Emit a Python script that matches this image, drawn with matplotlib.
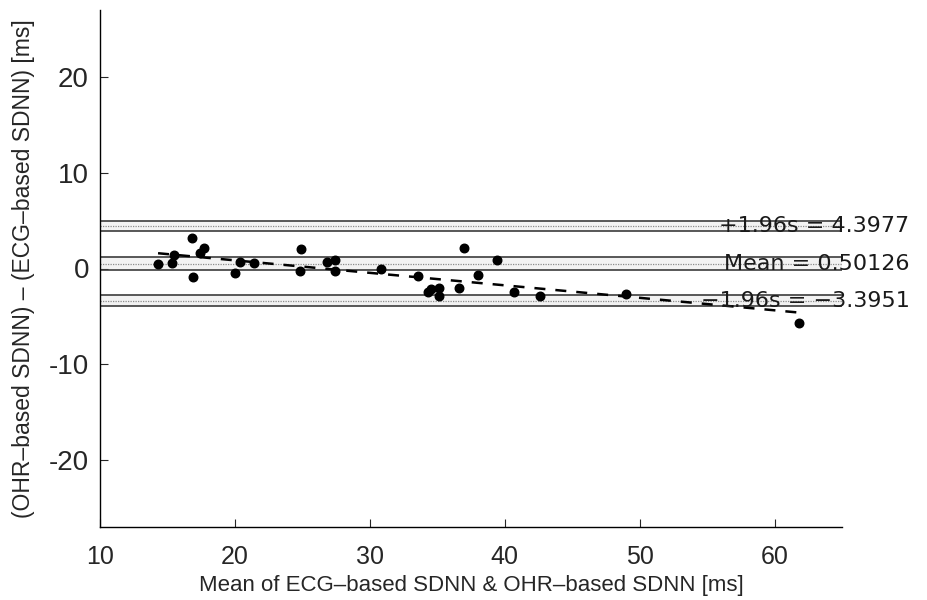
import numpy as np
import matplotlib
matplotlib.use("Agg")
from matplotlib import pyplot as plt

plt.rcParams["axes.unicode_minus"] = False

# Bland-Altman data: mean of the two SDNN estimates vs their difference [ms]
sdnn_mean = [14.3, 15.3, 15.5, 16.8, 16.9, 17.4, 17.7, 20.0, 20.4, 21.4,
             24.8, 24.9, 26.8, 27.4, 27.4, 30.8, 33.6, 34.3, 34.5, 35.1,
             35.1, 36.6, 37.0, 38.0, 39.4, 40.7, 42.6, 49.0, 61.8]
sdnn_diff = [0.52, 0.59, 1.46, 3.2, -0.9, 1.63, 2.15, -0.45, 0.66, 0.59,
             -0.28, 2.05, 0.7, 0.87, -0.24, -0.1, -0.8, -2.47, -2.19, -2.05,
             -2.88, -2.08, 2.15, -0.7, 0.94, -2.47, -2.85, -2.64, -5.66]

# reference lines and their confidence bands
ref_names = ["+1.96s", "Mean", "\u22121.96s"]
ref_values = [4.3977, 0.50126, -3.3951]
ref_lo = [3.9, -0.2, -3.93]
ref_hi = [5.0, 1.25, -2.81]

x = np.array(sdnn_mean)
y = np.array(sdnn_diff)

fig = plt.figure(figsize=(9.28, 6), dpi=100)
ax = fig.add_axes([0.1078, 0.1217, 0.7995, 0.8616])

for name, v, lo, hi in zip(ref_names, ref_values, ref_lo, ref_hi):
    ax.axhspan(lo, hi, facecolor="#f2f2f2", edgecolor="none", zorder=1)
    ax.axhline(lo, color="#3c3c3c", lw=1.2, zorder=2)
    ax.axhline(hi, color="#3c3c3c", lw=1.2, zorder=2)
    ax.axhline(v, color="#8c8c8c", lw=0.9, ls=(0, (1, 1)), zorder=2)
    txt = "%s = %g" % (name, v)
    ax.text(70.0, v, txt.replace("= -", "= \u2212"), ha="right", va="center",
            fontsize=16, family="DejaVu Sans", color="#1a1a1a",
            clip_on=False, zorder=5)

# linear trend of the differences
p = np.polyfit(x, y, 1)
xs = np.array([x.min(), x.max()])
ax.plot(xs, np.polyval(p, xs), color="black", lw=1.8, ls=(0, (4.4, 4)), zorder=3)

ax.scatter(x, y, s=38, color="black", zorder=4)

ax.set_xlim(10, 65)
ax.set_ylim(-27, 27)
ax.set_xticks([10, 20, 30, 40, 50, 60])
ax.set_yticks([-20, -10, 0, 10, 20])
ax.spines["top"].set_visible(False)
ax.spines["right"].set_visible(False)
for s in ["left", "bottom"]:
    ax.spines[s].set_linewidth(1.0)
ax.tick_params(direction="in", length=6, width=0.8, colors="#262626")
ax.tick_params(axis="x", labelsize=18, pad=13)
ax.tick_params(axis="y", labelsize=20, pad=8)
for lab in ax.get_xticklabels() + ax.get_yticklabels():
    lab.set_family("Liberation Sans")

label_font = dict(fontsize=16, family="Liberation Sans", color="#262626")
ax.set_xlabel("Mean of ECG\u2013based SDNN & OHR\u2013based SDNN [ms]", labelpad=4, **label_font)
ax.set_ylabel("(OHR\u2013based SDNN) \u2013 (ECG\u2013based SDNN) [ms]", labelpad=10,
              fontsize=16.5, family="Liberation Sans", color="#262626")

fig.savefig("out.png", dpi=100)
